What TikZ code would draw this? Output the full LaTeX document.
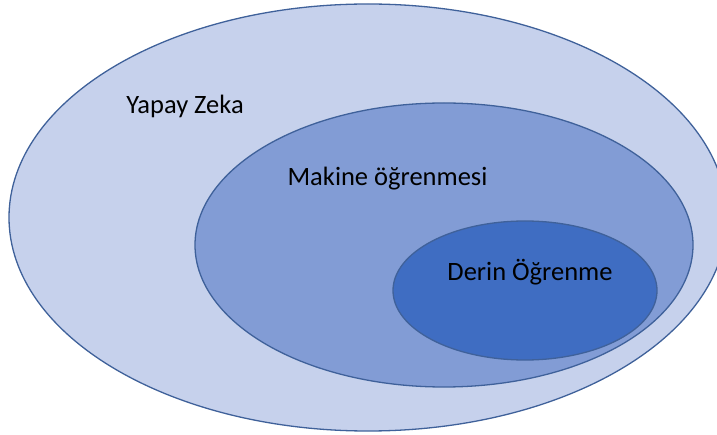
\documentclass[tikz,border=0pt]{standalone}
\usepackage{fontspec}
\setmainfont{Carlito}
\definecolor{ringline}{HTML}{3F619A}
\definecolor{aifill}{HTML}{C6D1EC}
\definecolor{mlfill}{HTML}{829CD5}
\definecolor{dlfill}{HTML}{3F6DC2}
\tikzset{
  setring/.style={draw=ringline, line width=1.3pt},
  setlabel/.style={font=\fontsize{26.5}{30}\selectfont, text=black, inner sep=0pt}
}
\begin{document}
\begin{tikzpicture}[x=1pt, y=-1pt]
  \useasboundingbox (0,0) rectangle (717,435);
  \begin{scope}
    \clip (0,0) rectangle (717,435);
    % nested sets: AI > ML > DL
    \path[setring, fill=aifill] (368,217.5) ellipse [x radius=359, y radius=213.5];
    \path[setring, fill=mlfill] (444,245) ellipse [x radius=249, y radius=142];
    \path[setring, fill=dlfill] (525,290.5) ellipse [x radius=132, y radius=69.5];
  \end{scope}
  \node[setlabel] (ai) at (185,106) {Yapay Zeka};
  \node[setlabel] (ml) at (387.5,179) {Makine öğrenmesi};
  \node[setlabel] (dl) at (530,272) {Derin Öğrenme};
\end{tikzpicture}
\end{document}
